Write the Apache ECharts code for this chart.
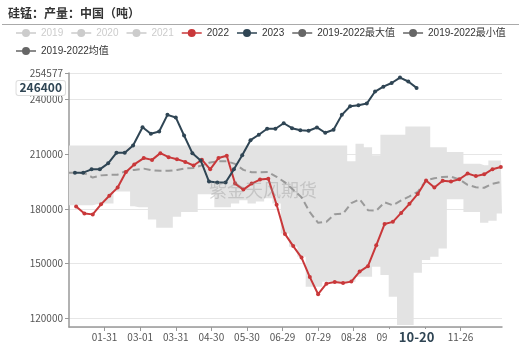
<!DOCTYPE html>
<html>
<head>
<meta charset="utf-8">
<script src="https://cdn.jsdelivr.net/npm/echarts@6/dist/echarts.min.js"></script>
<style>
    html, body {margin: 0; padding: 0; background: #fff;}
    #chart {width: 519px; height: 354px;}
</style>
</head>
<body>
<div id="chart"></div>
<script>
// x轴：按闰年排 01-01 ~ 12-31
const monthDays = [31, 29, 31, 30, 31, 30, 31, 31, 30, 31, 30, 31];
const pad = (n) => (n < 10 ? '0' : '') + n;
const days = [];
monthDays.forEach((n, m) => {
    for (let d = 1; d <= n; d++) days.push(pad(m + 1) + '-' + pad(d));
});

const weeks2022 = ['01-07', '01-14', '01-21', '01-28', '02-04', '02-11', '02-18', '02-25',
    '03-04', '03-11', '03-18', '03-25', '04-01', '04-08', '04-15', '04-22', '04-29',
    '05-06', '05-13', '05-20', '05-27', '06-03', '06-10', '06-17', '06-24',
    '07-01', '07-08', '07-15', '07-22', '07-29', '08-05', '08-12', '08-19', '08-26',
    '09-02', '09-09', '09-16', '09-23', '09-30', '10-07', '10-14', '10-21', '10-28',
    '11-04', '11-11', '11-18', '11-25', '12-02', '12-09', '12-16', '12-23', '12-30'];
const values2022 = [181300, 177500, 177000, 182500, 187200, 191700, 200200, 204400,
    207900, 206900, 210600, 208400, 207300, 205800, 203800, 207000, 201700,
    207900, 209200, 193900, 190600, 193900, 196100, 196600, 182300,
    166300, 159600, 153300, 142600, 133200, 139000, 139900, 139300, 140100,
    145600, 148600, 160000, 171700, 172900, 177800, 182800, 188200, 195600,
    191700, 195400, 195000, 196300, 199400, 198000, 199000, 201800, 203000];

const weeks2023 = ['01-06', '01-13', '01-20', '01-27', '02-03', '02-10', '02-17', '02-24',
    '03-03', '03-10', '03-17', '03-24', '03-31', '04-07', '04-14', '04-21', '04-28',
    '05-05', '05-12', '05-19', '05-26', '06-02', '06-09', '06-16', '06-23', '06-30',
    '07-07', '07-14', '07-21', '07-28', '08-04', '08-11', '08-18', '08-25',
    '09-01', '09-08', '09-15', '09-22', '09-29', '10-06', '10-13', '10-20'];
const values2023 = [199900, 199900, 201700, 201700, 205000, 210800, 210800, 214800,
    224800, 221200, 222500, 231600, 230200, 220300, 210600, 206600, 195000,
    194500, 194500, 201700, 209400, 217700, 220700, 224000, 224000, 227000,
    224300, 223200, 222900, 224700, 221800, 223400, 231600, 236300,
    236900, 237800, 244400, 247100, 249100, 252050, 249900, 246400];

// 2019-2022 区间
const bandWeeks = ['01-01'].concat(weeks2022, ['12-31']);
const bandMax = [214800,
    214800, 214800, 214800, 214800, 214800, 214800, 214800, 214800,
    214800, 214800, 214800, 214800, 214800, 214800, 214800, 214800, 214800,
    214800, 214800, 214800, 214800, 214800, 214800, 214800, 214800,
    214800, 214800, 214800, 214800, 214800, 214800, 214800, 214800, 206200,
    215800, 213900, 209400, 220700, 220700, 220700, 225200, 225200, 225200,
    213900, 213900, 211200, 211200, 204800, 204800, 203900, 206600, 206600,
    206600];
const bandMin = [182000,
    182000, 182000, 182000, 182500, 182900, 189500, 189500, 181400,
    180900, 174200, 169700, 169700, 175700, 178300, 178300, 188100, 188100,
    180900, 180900, 182900, 184800, 182900, 184000, 185800, 182900,
    166500, 159200, 153700, 137300, 137300, 140000, 140000, 140000, 140000,
    142800, 142800, 148200, 143700, 131800, 116300, 116300, 145000, 151900,
    153700, 158300, 185300, 185300, 178300, 178300, 172400, 173500, 177500,
    177500];
const bandAvg = [199900,
    199900, 199600, 197200, 198400, 198700, 198800, 200800, 201400,
    202100, 201200, 200900, 200900, 201400, 202200, 202500, 203900, 205500,
    206100, 206100, 204700, 201400, 200100, 200100, 200200, 197600,
    194600, 190500, 186400, 178200, 172400, 172900, 177100, 177400, 183200,
    185300, 179300, 179000, 183600, 182000, 184700, 186900, 189400, 195700,
    196800, 197500, 197700, 196200, 193200, 191900, 191600, 193800, 194800,
    194800];

const pairs = (xs, ys) => xs.map((x, i) => [x, ys[i]]);
const labelDay = (i) => i > 0 && i % 30 === 0 && i <= 330;

const gray = '#666';
const legendNames = ['2019', '2020', '2021', '2022', '2023',
    '2019-2022最大值', '2019-2022最小值', '2019-2022均值'];
// 图例图标：细线 + 圆点
const lineDot = 'path://M0,3.3L20,3.3L20,4.7L0,4.7Z M14,4A4,4,0,1,1,6,4A4,4,0,1,1,14,4Z';

const chart = echarts.init(document.getElementById('chart'));
chart.setOption({
    animation: false,
    textStyle: {fontFamily: '"Noto Sans CJK SC", sans-serif'},
    title: {
        text: '硅锰：产量：中国（吨）',
        left: 8, top: 7, padding: 0,
        textStyle: {fontSize: 12, fontWeight: 'bold', color: '#333'}
    },
    graphic: [{
        type: 'line',
        shape: {x1: 2, y1: 24.5, x2: 519, y2: 24.5},
        style: {stroke: '#aaa', lineWidth: 1}
    }, {
        type: 'text', left: 209, top: 181, z: 100,
        style: {text: '紫金天风期货', fill: 'rgba(140,140,140,0.35)', font: '18px "Noto Sans CJK SC"'}
    }],
    legend: {
        left: 16, top: 28, padding: 0,
        itemGap: 8, itemWidth: 20, itemHeight: 8,
        inactiveColor: '#ccc',
        textStyle: {fontSize: 10, color: '#333', fontFamily: '"Liberation Sans", "Noto Sans CJK SC", sans-serif'},
        selected: {'2019': false, '2020': false, '2021': false},
        data: legendNames.map((n, i) => i < 5 ? {name: n, icon: lineDot} : {
            name: n, icon: lineDot, itemStyle: {color: gray}
        })
    },
    grid: {left: 69, right: 17, top: 73, bottom: 27},
    xAxis: {
        type: 'category',
        data: days,
        boundaryGap: false,
        axisLine: {lineStyle: {color: '#999', width: 1.5}},
        axisTick: {interval: labelDay, length: 4, lineStyle: {color: '#999'}},
        axisLabel: {interval: labelDay, fontSize: 10, color: '#555', margin: 5},
        splitLine: {show: false},
        axisPointer: {
            show: true, type: 'none', status: 'show', value: '10-20',
            label: {
                show: true, backgroundColor: '#fff', color: '#2f4554',
                fontWeight: 'bold', fontSize: 13, padding: [2, 12], margin: 2
            }
        }
    },
    yAxis: {
        type: 'value',
        min: 115200,
        max: 254577,
        axisLine: {show: true, lineStyle: {color: '#999', width: 1.5}},
        axisTick: {show: true, length: 4, lineStyle: {color: '#999'}},
        axisLabel: {
            fontSize: 10, color: '#555', margin: 6, showMinLabel: false,
            formatter: (v) => String(Math.round(v))
        },
        splitLine: {lineStyle: {color: '#e6e6e6'}},
        axisPointer: {
            show: true, type: 'none', status: 'show', value: 246400,
            label: {
                show: true, backgroundColor: '#fff', color: '#2f4554',
                fontWeight: 'bold', fontSize: 12, padding: [1, 3],
                borderColor: '#ddd', borderWidth: 1, borderRadius: 2, margin: 4,
                formatter: (p) => String(Math.round(p.value))
            }
        }
    },
    series: [{
        name: '2019-2022最小值', type: 'line', stack: 'range', step: 'middle',
        showSymbol: false, symbol: 'circle',
        itemStyle: {color: gray}, lineStyle: {opacity: 0},
        data: pairs(bandWeeks, bandMin)
    }, {
        name: '2019-2022最大值', type: 'line', stack: 'range', step: 'middle',
        showSymbol: false, symbol: 'circle',
        itemStyle: {color: gray}, lineStyle: {opacity: 0},
        areaStyle: {color: '#e3e3e3', opacity: 1},
        data: pairs(bandWeeks, bandMax.map((v, i) => v - bandMin[i]))
    }, {
        name: '2019-2022均值', type: 'line',
        showSymbol: false, symbol: 'circle',
        itemStyle: {color: gray},
        lineStyle: {color: '#9a9a9a', width: 2, type: [7, 4]},
        data: pairs(bandWeeks, bandAvg)
    }, {
        name: '2019', type: 'line', data: []
    }, {
        name: '2020', type: 'line', data: []
    }, {
        name: '2021', type: 'line', data: []
    }, {
        name: '2022', type: 'line', symbol: 'circle', symbolSize: 4, showAllSymbol: true,
        itemStyle: {color: '#c9383a'}, lineStyle: {width: 2},
        data: pairs(weeks2022, values2022)
    }, {
        name: '2023', type: 'line', symbol: 'circle', symbolSize: 4, showAllSymbol: true,
        itemStyle: {color: '#2f4554'}, lineStyle: {width: 2},
        data: pairs(weeks2023, values2023)
    }]
});
</script>
</body>
</html>
